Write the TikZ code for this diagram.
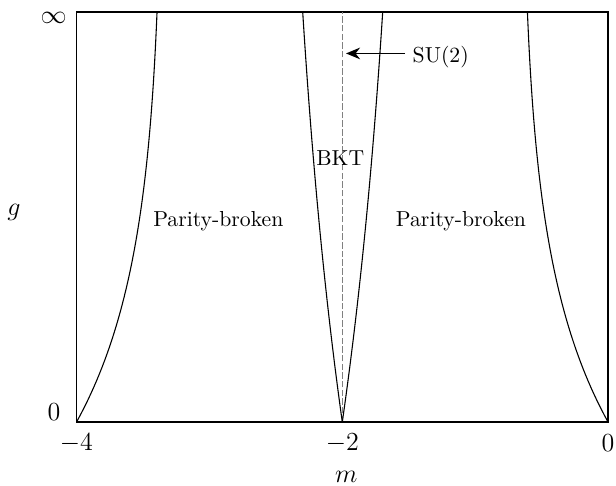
\documentclass[tikz,border=0pt]{standalone}
\usepackage{tikz}
\usetikzlibrary{arrows.meta, positioning}
\tikzset{
  ticktext/.style={font=\large},
  phasetext/.style={font=\normalsize}
}
\tikzset{
  boundary/.style={line width=0.5pt},
  su2line/.style={gray, dash pattern=on 3pt off 1pt, line width=0.5pt}
}

\begin{document}
\begin{tikzpicture}[x=2.152cm, y=6.641cm]
  \useasboundingbox (-4.5756,-0.1537) rectangle (0.0594,1.0293);
  % frame of the (m,g) plane
  \coordinate (bl) at (-4,0);
  \coordinate (tr) at (0,1);
  \draw[thick] (bl) rectangle (tr);
  % self-dual line at m=-2
  \coordinate (su2bot) at (-2,0);
  \coordinate (su2top) at (-2,1);
  \draw[su2line] (su2bot) -- (su2top);
  % phase boundaries
  \draw[boundary] plot[domain=0:1, samples=60, variable=\t]
    ({-4+0.6546*(1-exp(-2.6*\t))}, \t);
  \draw[boundary] plot[domain=0:1, samples=60, variable=\t]
    ({-2-0.5411*(1-exp(-0.8*\t))}, \t);
  \draw[boundary] plot[domain=0:1, samples=60, variable=\t]
    ({-2+0.5520*(1-exp(-0.8*\t))}, \t);
  \draw[boundary] plot[domain=0:1, samples=60, variable=\t]
    ({-0.6557*(1-exp(-2.6*\t))}, \t);
  % axis labels
  \node[ticktext] (ginf) at (-4.1716,0.9846) {$\infty$};
  \node[ticktext] (gzero) at (-4.169,0.0251) {$0$};
  \node[ticktext] (glabel) at (-4.470,0.512) {$g$};
  \node[ticktext] (mfour) at (-4,-0.051) {$-4$};
  \node[ticktext] (mtwo) at (-2,-0.051) {$-2$};
  \node[ticktext] (mzero) at (0,-0.051) {$0$};
  \node[ticktext] (mlabel) at (-1.97,-0.1334) {$m$};
  % phases
  \node[phasetext] (pbleft) at (-2.933,0.4907) {Parity-broken};
  \node[phasetext] (pbright) at (-1.107,0.4902) {Parity-broken};
  \node[phasetext] (bkt) at (-2.015,0.6439) {BKT};
  \node[phasetext, anchor=west] (su2) at (-1.528,0.891) {SU(2)};
  \coordinate (su2tip) at (-1.972,0.899);
  \draw[semithick, -{Stealth[length=6.5pt, width=5.4pt]}] (su2tip -| su2.west) -- (su2tip);
\end{tikzpicture}
\end{document}
